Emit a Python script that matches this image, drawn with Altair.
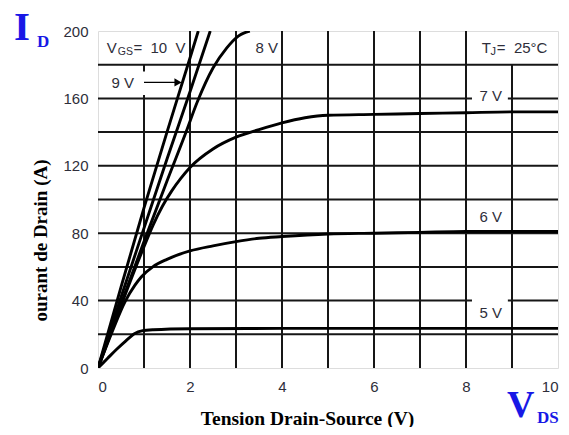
import altair as alt
import pandas as pd

# ---- curve data (V_DS in V, I_D in A) ----
vds_10 = [0, 0.5, 1.0, 1.5, 2.0, 2.18]
id_10 = [0, 48, 95, 140, 184, 200]

vds_9 = [0, 0.5, 1.0, 1.5, 2.0, 2.44]
id_9 = [0, 42, 83, 124, 164, 200]

vds_8 = [0, 0.5, 1.0, 1.5, 1.9, 2.16, 2.5, 2.8, 3.05, 3.3]
id_8 = [0, 38, 75, 111, 139, 158, 178, 190, 197, 200]

vds_7 = [0, 0.5, 1.0, 1.2, 1.4, 1.6, 1.8, 2.0, 2.5, 3.0, 3.5, 4.0, 4.5, 5.0, 6, 7, 8, 9, 10]
id_7 = [0, 37, 72, 85, 96, 105, 112.5, 119, 130, 137, 141.5, 145.5, 148.5, 150, 150.5, 151, 151.5, 152, 152]

vds_6 = [0, 0.3, 0.6, 0.8, 0.94, 1.19, 1.5, 2, 2.5, 3, 3.5, 4, 5, 6, 7, 8, 10]
id_6 = [0, 21, 40, 49, 54, 60, 64.5, 69.5, 72.5, 75, 77, 78, 79.5, 80, 80.5, 81, 81]

vds_5 = [0, 0.2, 0.4, 0.6, 0.8, 0.95, 1.2, 2, 4, 10]
id_5 = [0, 5.5, 11, 16, 20.5, 22, 22.7, 23.3, 23.5, 23.5]

series = {"10 V": (vds_10, id_10), "9 V": (vds_9, id_9), "8 V": (vds_8, id_8),
          "7 V": (vds_7, id_7), "6 V": (vds_6, id_6), "5 V": (vds_5, id_5)}

# ---- grid (segments, with gaps behind labels) ----
vgrid_x = [1, 1, 2, 3, 4, 5, 6, 7, 8, 9]
vgrid_lo = [0, 176, 0, 0, 0, 0, 0, 0, 0, 0]
vgrid_hi = [162, 180, 200, 200, 200, 200, 200, 200, 200, 180]

hgrid_y = [20, 40, 40, 60, 80, 100, 120, 140, 160, 160, 180]
hgrid_lo = [0, 0, 8.91, 0, 0, 0, 0, 0, 0, 8.91, 0]
hgrid_hi = [10, 8.13, 10, 10, 10, 10, 10, 10, 8.13, 10, 10]

x_ticks = [0, 2, 4, 6, 8, 10]
y_ticks = [0, 40, 80, 120, 160, 200]

# ---- annotations ----
lab_text = ["8 V", "7 V", "6 V", "5 V", "9 V"]
lab_x = [3.67, 8.54, 8.54, 8.54, 0.54]
lab_y = [190, 161.5, 89.5, 32.4, 169]

rows = []
for k, (xs_, ys_) in series.items():
    for a, b in zip(xs_, ys_):
        rows.append({"vgs": k, "vds": a, "id": b})
curves = pd.DataFrame(rows)

vg = pd.DataFrame({"x": vgrid_x, "y1": vgrid_lo, "y2": vgrid_hi})
hg = pd.DataFrame({"y": hgrid_y, "x1": hgrid_lo, "x2": hgrid_hi})
labs = pd.DataFrame({"t": lab_text, "x": lab_x, "y": lab_y})

W, H = 460, 337
LAB_FONT = "Liberation Sans Narrow, Liberation Sans, Arial"
TXT = "#2e2e3a"
BLUE = "#1818e6"
GRID = "#161616"

xs = alt.Scale(domain=[0, 10], nice=False)
ys = alt.Scale(domain=[0, 200], nice=False)

xaxis = alt.Axis(values=x_ticks, grid=False, ticks=False, domain=False,
                 labelFont=LAB_FONT, labelFontSize=15, labelColor=TXT, labelPadding=11,
                 title="Tension Drain-Source (V)", titleFont="Liberation Serif",
                 titleFontWeight="bold", titleFontSize=19.5, titleColor="black",
                 titleX=209, titleY=56, titleAlign="center", titleBaseline="alphabetic")
yaxis = alt.Axis(values=y_ticks, grid=False, ticks=False, domain=False,
                 labelFont=LAB_FONT, labelFontSize=15, labelColor=TXT, labelPadding=10,
                 title="ourant de Drain (A)", titleFont="Liberation Serif",
                 titleFontWeight="bold", titleFontSize=19, titleColor="black",
                 titleX=-58, titleY=209, titleAngle=-90, titleAlign="center",
                 titleBaseline="middle")

vgrid = alt.Chart(vg).mark_rule(color=GRID, strokeWidth=2).encode(
    x=alt.X("x:Q", scale=xs, axis=xaxis),
    y=alt.Y("y1:Q", scale=ys, axis=yaxis),
    y2="y2:Q")
hgrid = alt.Chart(hg).mark_rule(color=GRID, strokeWidth=2).encode(
    y=alt.Y("y:Q", scale=ys), x=alt.X("x1:Q", scale=xs), x2="x2:Q")

lines = alt.Chart(curves).mark_line(color="black", strokeWidth=2.9,
                                    interpolate="monotone", clip=True).encode(
    x=alt.X("vds:Q", scale=xs), y=alt.Y("id:Q", scale=ys), detail="vgs:N", order="vds:Q")

labels = alt.Chart(labs).mark_text(font=LAB_FONT, fontSize=15, color=TXT,
                                   align="center", baseline="middle").encode(
    x=alt.X("x:Q", scale=xs), y=alt.Y("y:Q", scale=ys), text="t:N")

def txt(t, x, y, size, align="left", dy=0):
    return alt.Chart(pd.DataFrame({"t": [t], "x": [x], "y": [y]})).mark_text(
        font=LAB_FONT, fontSize=size, color=TXT, align=align, baseline="middle", dy=dy
    ).encode(x=alt.X("x:Q", scale=xs), y=alt.Y("y:Q", scale=ys), text="t:N")

NB = "\u00a0"
vgs_v = txt("V", 0.19, 190, 15)
vgs_sub = txt("GS", 0.43, 190, 10.5, dy=4)
vgs_eq = txt("=" + NB + " 10" + NB + " V", 0.77, 190, 15)
tj_t = txt("T", 8.34, 190, 15)
tj_sub = txt("J", 8.53, 190, 11, dy=4)
tj_eq = txt("=" + NB + " 25°C", 8.67, 190, 15)

arrow = alt.Chart(pd.DataFrame({"x": [1.0], "x2": [1.72], "y": [169.5]})).mark_rule(
    color="black", strokeWidth=1.2).encode(
    x=alt.X("x:Q", scale=xs), x2="x2:Q", y=alt.Y("y:Q", scale=ys))
head = alt.Chart(pd.DataFrame({"x": [1.74], "y": [169.5]})).mark_point(
    shape="triangle-right", filled=True, color="black", size=70, opacity=1).encode(
    x=alt.X("x:Q", scale=xs), y=alt.Y("y:Q", scale=ys))

def big(t, x, y, size):
    return alt.Chart(pd.DataFrame({"t": [t]})).mark_text(
        font="Liberation Serif", fontWeight="bold", fontSize=size, color=BLUE,
        align="left", baseline="alphabetic").encode(
        x=alt.value(x), y=alt.value(y), text="t:N")

i_big = big("I", -84, 9, 41)
i_sub = big("D", -61, 16, 17)
v_big = big("V", 409, 386, 38)
v_sub = big("DS", 439, 392, 17)

chart = alt.layer(vgrid, hgrid, lines, labels, vgs_v, vgs_sub, vgs_eq,
                  tj_t, tj_sub, tj_eq, arrow, head, i_big, i_sub, v_big, v_sub).properties(
    width=W, height=H,
    autosize=alt.AutoSizeParams(type="none"),
    padding={"left": 90, "top": 23, "right": 3, "bottom": 59},
).configure_view(stroke="black", strokeWidth=2).configure(background="white")

chart.save("out.html", embed_options={"renderer": "svg", "actions": False})
